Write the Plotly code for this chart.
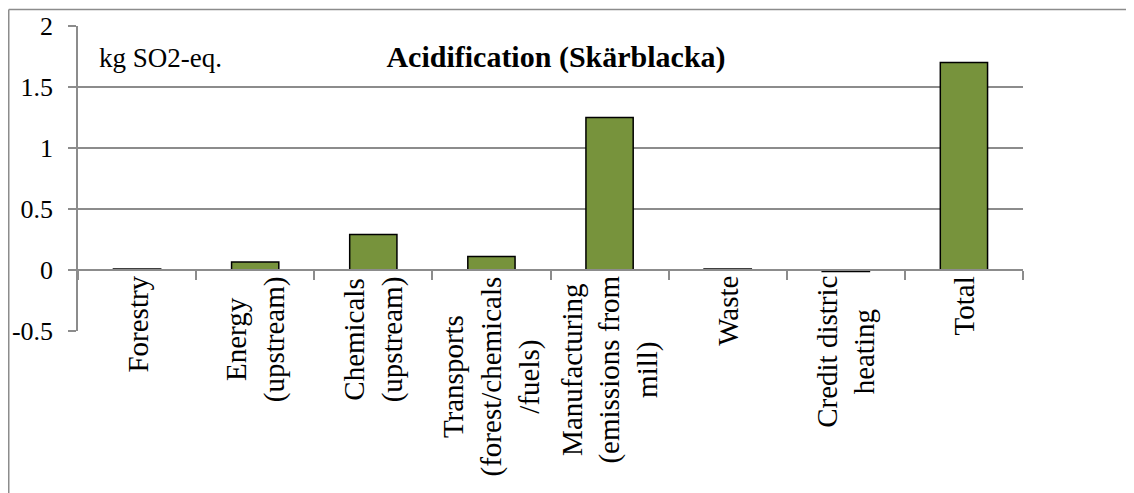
import plotly.graph_objects as go

# ---- data ----
categories = ["Forestry", "Energy (upstream)", "Chemicals (upstream)",
              "Transports (forest/chemicals /fuels)", "Manufacturing (emissions from mill)",
              "Waste", "Credit distric heating", "Total"]
label_lines = ["Forestry", "Energy\n(upstream)", "Chemicals\n(upstream)",
               "Transports\n(forest/chemicals\n/fuels)", "Manufacturing\n(emissions from\nmill)",
               "Waste", "Credit distric\nheating", "Total"]
values = [0.008, 0.065, 0.29, 0.11, 1.25, 0.008, -0.012, 1.70]
y_ticks = [-0.5, 0, 0.5, 1, 1.5, 2]
y_tick_text = ["-0.5", "0", "0.5", "1", "1.5", "2"]
title_text = "Acidification (Skärblacka)"
unit_text = "kg SO2-eq."

FONT = "'Liberation Serif', 'Times New Roman', serif"
GRID = "#8c8c8c"
# page body has an 8px margin, so the figure is sized/positioned to compensate
W, H = 1126, 485
L, R, T, B = 70, 111, 18, 162

fig = go.Figure()
fig.add_trace(go.Bar(
    x=categories, y=values, width=0.4,
    marker=dict(color="#77933C", line=dict(color="#000000", width=1.5)),
    showlegend=False,
))

for cat, lab in zip(categories, label_lines):
    fig.add_annotation(
        x=cat, y=0, xref="x", yref="y",
        text=lab.replace("\n", "<br>"),
        textangle=-90, showarrow=False,
        xanchor="center", yanchor="top", yshift=-4, align="center",
        font=dict(family=FONT, size=29, color="#000000"),
    )

px_w = W - L - R
px_h = H - T - B

fig.add_annotation(
    x=(89 - L) / px_w, y=(H - B - 50) / px_h, xref="paper", yref="paper",
    text=unit_text, showarrow=False, xanchor="left", yanchor="middle",
    font=dict(family=FONT, size=27, color="#000000"),
)

# outer chart frame (top and left edges visible)
fig.add_shape(type="line", xref="paper", yref="paper",
              x0=(0.75 - L) / px_w, x1=(W + 5 - L) / px_w,
              y0=(H - B - 1.5) / px_h, y1=(H - B - 1.5) / px_h,
              line=dict(color=GRID, width=1.5))
fig.add_shape(type="line", xref="paper", yref="paper",
              x0=(0.75 - L) / px_w, x1=(0.75 - L) / px_w,
              y0=(H - B - 1.5) / px_h, y1=(H - B - H - 5) / px_h,
              line=dict(color=GRID, width=1.5))

fig.update_layout(
    template="none",
    width=W, height=H,
    margin=dict(l=L, r=R, t=T, b=B, pad=0, autoexpand=False),
    paper_bgcolor="white", plot_bgcolor="white",
    bargap=0.6,
    title=dict(text="<b>" + title_text + "</b>", x=548 / W, xanchor="center",
               y=1 - 48 / H, yanchor="middle", yref="container",
               font=dict(family=FONT, size=30, color="#000000")),
    font=dict(family=FONT, color="#000000"),
    xaxis=dict(
        anchor="free", position=0.2, automargin=False,
        showline=True, linecolor=GRID, linewidth=1.5,
        ticks="outside", tickson="boundaries", ticklen=9, tickcolor=GRID, tickwidth=1.5,
        showticklabels=False, showgrid=False, zeroline=False,
    ),
    yaxis=dict(
        range=[-0.5, 2], tickvals=y_ticks, ticktext=y_tick_text, automargin=False,
        showline=True, linecolor=GRID, linewidth=1.5,
        ticks="outside", ticklen=8, tickcolor=GRID, tickwidth=1.5,
        showgrid=True, gridcolor=GRID, gridwidth=1.5,
        zeroline=False, domain=[0, 1],
        tickfont=dict(family=FONT, size=26, color="#000000"),
        ticklabelstandoff=10,
    ),
)

fig.write_html("out.html")
